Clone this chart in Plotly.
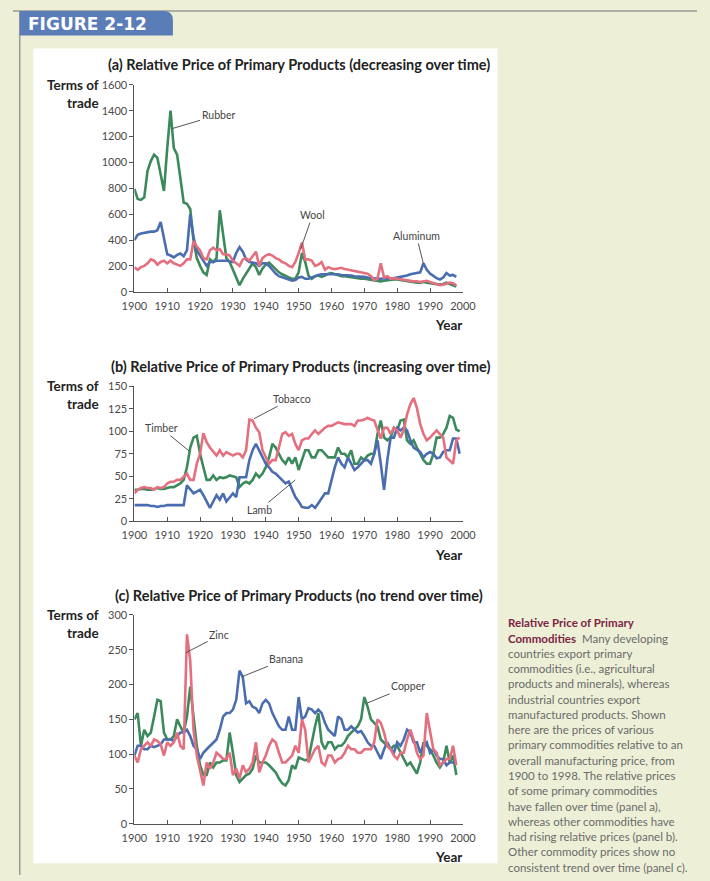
import plotly.graph_objects as go

# ---- data ----
YEARS_A = list(range(1900, 1999))
YEARS_B = list(range(1900, 2000))
YEARS_C = list(range(1900, 1999))

RUBBER = [
    795, 718, 710, 730, 934, 1010, 1060, 1035, 908, 780,
    1110, 1400, 1110, 1060, 880, 690, 680, 640, 400, 260,
    200, 150, 130, 250, 230, 260, 630, 430, 260, 230,
    170, 100, 50, 100, 140, 170, 220, 190, 130, 180,
    210, 225, 200, 175, 150, 135, 120, 110, 100, 100,
    150, 300, 230, 125, 100, 120, 125, 115, 125, 140,
    145, 135, 125, 120, 120, 115, 110, 110, 105, 100,
    100, 95, 95, 90, 85, 80, 85, 90, 95, 95,
    95, 90, 85, 80, 80, 75, 70, 70, 75, 70,
    65, 60, 55, 55, 60, 70, 60, 50, 40,
]
ALUMINUM = [
    400, 440, 450, 455, 465, 465, 465, 475, 540, 400,
    290, 280, 265, 285, 295, 275, 320, 600, 420, 320,
    280, 250, 200, 230, 230, 240, 240, 245, 240, 235,
    230, 300, 345, 310, 250, 230, 225, 220, 200, 220,
    220, 200, 170, 140, 120, 110, 100, 95, 85, 90,
    110, 115, 100, 100, 110, 125, 130, 135, 135, 140,
    140, 140, 135, 130, 130, 125, 125, 120, 120, 115,
    115, 110, 105, 100, 100, 100, 105, 105, 100, 105,
    110, 115, 115, 125, 135, 140, 140, 150, 220, 170,
    140, 120, 105, 95, 110, 145, 125, 130, 115,
]
WOOL = [
    190, 170, 190, 200, 220, 250, 240, 210, 230, 240,
    220, 240, 220, 210, 200, 220, 250, 250, 390, 350,
    320, 260, 250, 320, 340, 320, 330, 290, 290, 280,
    240, 220, 200, 250, 260, 240, 280, 310, 200, 260,
    280, 290, 280, 260, 250, 230, 220, 200, 190, 230,
    300, 380, 250, 250, 240, 200, 210, 230, 170, 190,
    180, 175, 180, 185, 175, 170, 165, 160, 160, 155,
    150, 140, 120, 90, 100, 220, 110, 120, 100, 105,
    100, 95, 90, 85, 85, 80, 80, 75, 80, 85,
    75, 65, 55, 50, 55, 60, 70, 65, 50,
]

TIMBER = [
    35, 35, 36, 36, 35, 35, 36, 37, 36, 36,
    37, 38, 38, 40, 42, 46, 60, 82, 93, 95,
    75, 60, 46, 46, 51, 46, 49, 48, 49, 51,
    50, 49, 38, 42, 44, 42, 46, 53, 49, 53,
    60, 71, 86, 82, 75, 68, 64, 71, 64, 71,
    57, 68, 79, 79, 71, 71, 79, 79, 75, 71,
    71, 71, 82, 75, 75, 71, 79, 64, 64, 71,
    68, 73, 75, 75, 97, 112, 93, 90, 93, 104,
    101, 112, 113, 90, 86, 90, 82, 75, 68, 64,
    64, 75, 93, 93, 97, 104, 117, 115, 102, 100,
]
TOBACCO = [
    31, 35, 37, 38, 37, 37, 35, 38, 37, 38,
    42, 44, 44, 46, 46, 49, 53, 46, 46, 64,
    75, 98, 88, 82, 77, 73, 79, 73, 77, 75,
    73, 75, 75, 71, 79, 113, 112, 104, 99, 79,
    71, 64, 68, 68, 82, 97, 99, 95, 97, 86,
    79, 90, 92, 92, 97, 101, 97, 101, 104, 106,
    106, 108, 110, 109, 108, 108, 108, 106, 112, 112,
    113, 115, 113, 112, 101, 92, 104, 104, 97, 104,
    101, 93, 101, 119, 130, 137, 126, 108, 97, 90,
    93, 97, 101, 97, 93, 71, 68, 64, 90, 93,
]
LAMB = [
    18, 18, 18, 18, 18, 17, 17, 16, 17, 17,
    18, 18, 18, 18, 18, 18, 40, 35, 31, 33,
    35, 29, 22, 15, 22, 29, 24, 31, 22, 27,
    31, 27, 49, 49, 49, 68, 79, 86, 79, 71,
    64, 60, 55, 53, 49, 46, 42, 44, 35, 27,
    22, 16, 15, 15, 18, 15, 20, 25, 31, 31,
    46, 60, 71, 64, 60, 71, 64, 57, 60, 64,
    68, 68, 64, 75, 90, 64, 35, 68, 93, 93,
    104, 101, 104, 101, 90, 82, 79, 77, 71, 75,
    77, 75, 70, 71, 77, 79, 79, 92, 92, 75,
]

COPPER = [
    150, 159, 112, 135, 126, 131, 154, 178, 176, 131,
    121, 121, 126, 150, 140, 131, 154, 197, 154, 112,
    84, 70, 70, 88, 81, 88, 88, 91, 91, 131,
    102, 70, 60, 65, 70, 72, 79, 98, 88, 88,
    88, 84, 79, 74, 65, 58, 55, 63, 84, 79,
    95, 93, 91, 93, 117, 140, 159, 117, 107, 117,
    117, 107, 112, 112, 117, 126, 131, 135, 140, 150,
    182, 168, 150, 145, 140, 121, 117, 112, 107, 112,
    112, 102, 93, 84, 88, 79, 72, 88, 117, 112,
    107, 98, 88, 81, 88, 112, 88, 98, 70,
]
ZINC = [
    98, 88, 107, 112, 117, 112, 121, 119, 114, 98,
    117, 112, 117, 131, 112, 107, 272, 234, 135, 98,
    74, 55, 88, 79, 88, 102, 98, 93, 93, 102,
    70, 79, 65, 84, 74, 79, 88, 117, 74, 88,
    98, 112, 121, 117, 102, 88, 88, 93, 98, 112,
    102, 150, 135, 88, 98, 107, 112, 88, 84, 98,
    98, 88, 93, 95, 102, 112, 107, 107, 102, 102,
    107, 107, 107, 117, 150, 145, 131, 112, 107, 98,
    93, 102, 102, 121, 135, 121, 102, 93, 98, 159,
    135, 107, 102, 84, 88, 93, 93, 112, 84,
]
BANANA = [
    98, 112, 112, 107, 107, 112, 110, 112, 114, 121,
    121, 121, 119, 126, 131, 131, 135, 126, 112, 107,
    93, 102, 107, 112, 117, 121, 135, 154, 159, 159,
    164, 178, 220, 211, 173, 176, 168, 166, 159, 173,
    178, 173, 159, 150, 140, 135, 135, 154, 135, 135,
    182, 150, 154, 166, 164, 159, 164, 159, 145, 135,
    131, 126, 154, 150, 135, 135, 140, 135, 131, 133,
    126, 117, 112, 112, 102, 93, 107, 117, 107, 102,
    117, 112, 121, 135, 131, 117, 117, 102, 112, 117,
    102, 107, 98, 93, 93, 84, 88, 88, 88,
]

X_TICKS = list(range(1900, 2001, 10))

PANEL_TITLES = [
    "(a) Relative Price of Primary Products (decreasing over time)",
    "(b) Relative Price of Primary Products (increasing over time)",
    "(c) Relative Price of Primary Products (no trend over time)",
]

CAPTION = [
    "<b>Relative Price of Primary</b>",
    "<b>Commodities</b>  <span style='color:#6b6b6b'>Many developing</span>",
    "countries export primary",
    "commodities (i.e., agricultural",
    "products and minerals), whereas",
    "industrial countries export",
    "manufactured products. Shown",
    "here are the prices of various",
    "primary commodities relative to an",
    "overall manufacturing price, from",
    "1900 to 1998. The relative prices",
    "of some primary commodities",
    "have fallen over time (panel a),",
    "whereas other commodities have",
    "had rising relative prices (panel b).",
    "Other commodity prices show no",
    "consistent trend over time (panel c).",
]

GREEN = "#3c8a5c"
BLUE = "#4a6db0"
RED = "#e46f7e"
W, H = 710, 881
FONT = "Lato"


def px(x):
    return x / W


def py(y):
    return 1 - y / H


fig = go.Figure()

# panel layout in pixels: (axis suffix, y top, y bottom, y max, dtick)
panels = [
    ("", 79, 289, 1600, 200),
    ("2", 385, 522, 150, 25),
    ("3", 617, 829, 300, 50),
]

series = [
    ("", YEARS_A, [("Rubber", RUBBER, GREEN), ("Aluminum", ALUMINUM, BLUE), ("Wool", WOOL, RED)]),
    ("2", YEARS_B, [("Timber", TIMBER, GREEN), ("Lamb", LAMB, BLUE), ("Tobacco", TOBACCO, RED)]),
    ("3", YEARS_C, [("Copper", COPPER, GREEN), ("Banana", BANANA, BLUE), ("Zinc", ZINC, RED)]),
]

for sfx, years, items in series:
    for name, vals, color in items:
        fig.add_trace(go.Scatter(
            x=years, y=vals, name=name, mode="lines",
            line=dict(color=color, width=2.6),
            xaxis="x" + sfx, yaxis="y" + sfx, showlegend=False,
        ))

tick_font = dict(family=FONT, size=11, color="#4a4a4a")
layout_axes = {}
for sfx, top, bottom, ymax, dtick in panels:
    layout_axes["xaxis" + sfx] = dict(
        domain=[px(126), px(467)], range=[1900, 2000], anchor="y" + sfx,
        tickvals=X_TICKS, ticks="inside", ticklen=4, tickcolor="#555",
        showline=True, linecolor="#555", linewidth=1, showgrid=False,
        zeroline=False, tickfont=tick_font, ticklabelstandoff=4,
    )
    layout_axes["yaxis" + sfx] = dict(
        domain=[py(bottom), py(top)], range=[0, ymax], anchor="x" + sfx,
        dtick=dtick, ticks="outside", ticklen=4, tickcolor="#555",
        showline=True, linecolor="#555", linewidth=1, showgrid=False,
        zeroline=False, tickfont=tick_font,
    )

annotations = []

# panel titles, y-axis and x-axis titles
title_pos = [(97, 58), (100, 365), (104, 597)]
for (x, y), text in zip(title_pos, PANEL_TITLES):
    annotations.append(dict(
        x=px(x), y=py(y), xref="paper", yref="paper", xanchor="left", yanchor="middle",
        text=f"<b>{text}</b>", showarrow=False,
        font=dict(family=FONT, size=14.5, color="#222"),
    ))
for (_, top, bottom, _, _) in panels:
    for dy, word in ((0, "Terms of"), (18, "trade")):
        annotations.append(dict(
            x=px(91), y=py(top + dy), xref="paper", yref="paper",
            xanchor="right", yanchor="middle",
            text=f"<b>{word}</b>", showarrow=False,
            font=dict(family=FONT, size=13.5, color="#222"),
        ))
    annotations.append(dict(
        x=px(468), y=py(bottom + 34), xref="paper", yref="paper", xanchor="right", yanchor="middle",
        text="<b>Year</b>", showarrow=False,
        font=dict(family=FONT, size=13.5, color="#222"),
    ))

# series labels with leader lines: (axis suffix, label, x, y, ax, ay)
labels = [
    ("", "Rubber", 1911.3, 1260, 47, -14),
    ("", "Wool", 1950.6, 330, 12, -34),
    ("", "Aluminum", 1988, 215, -7, -28),
    ("2", "Tobacco", 1936.4, 114, 38, -20),
    ("2", "Timber", 1916.7, 78, -28, -23),
    ("2", "Lamb", 1949, 46, -36, 30),
    ("3", "Zinc", 1915.8, 246, 33, -17),
    ("3", "Banana", 1932.6, 211, 45, -18),
    ("3", "Copper", 1970.7, 173, 41, -17),
]
for sfx, text, x, y, ax, ay in labels:
    annotations.append(dict(
        x=x, y=y, xref="x" + sfx, yref="y" + sfx, text=text,
        showarrow=True, arrowhead=0, arrowwidth=1, arrowcolor="#555",
        ax=ax, ay=ay, standoff=0,
        font=dict(family=FONT, size=10.5, color="#444"),
    ))

# caption at the right
for i, line in enumerate(CAPTION):
    color = "#7d2445" if i < 2 else "#6b6b6b"
    annotations.append(dict(
        x=px(512), y=py(625 + i * 15.5), xref="paper", yref="paper",
        xanchor="left", yanchor="middle", text=line, showarrow=False,
        font=dict(family=FONT, size=11.5, color=color),
    ))

# figure tab
annotations.append(dict(
    x=px(13), y=py(17), xref="paper", yref="paper", xanchor="left", yanchor="middle",
    text="<b>FIGURE 2-12</b>", showarrow=False,
    font=dict(family="DejaVu Sans", size=17, color="white"),
))

shapes = [
    dict(type="rect", xref="paper", yref="paper", x0=px(21), x1=px(503),
         y0=py(869), y1=py(42), fillcolor="white", line=dict(width=0), layer="below"),
    dict(type="line", xref="paper", yref="paper", x0=0, x1=1, y0=py(4), y1=py(4),
         line=dict(color="#9a9a9a", width=1.5)),
    dict(type="line", xref="paper", yref="paper", x0=px(7), x1=px(7), y0=0, y1=py(4),
         line=dict(color="#9a9a9a", width=1.5)),
    dict(type="path", xref="paper", yref="paper",
         path=f"M {px(7)},{py(4)} L {px(156)},{py(4)} Q {px(166)},{py(4)} {px(166)},{py(13)} "
              f"L {px(166)},{py(29)} L {px(7)},{py(29)} Z",
         fillcolor="#5b7db7", line=dict(width=0)),
]

fig.update_layout(
    width=W, height=H,
    margin=dict(l=0, r=0, t=0, b=0),
    paper_bgcolor="#edf0d7",
    plot_bgcolor="rgba(0,0,0,0)",
    annotations=annotations,
    shapes=shapes,
    font=dict(family=FONT),
    **layout_axes,
)

# drop the browser's default body margin so the figure sits at the window origin
fig.write_html(
    "out.html",
    config={"displayModeBar": False},
    post_script="document.body.style.margin='0px';",
)
